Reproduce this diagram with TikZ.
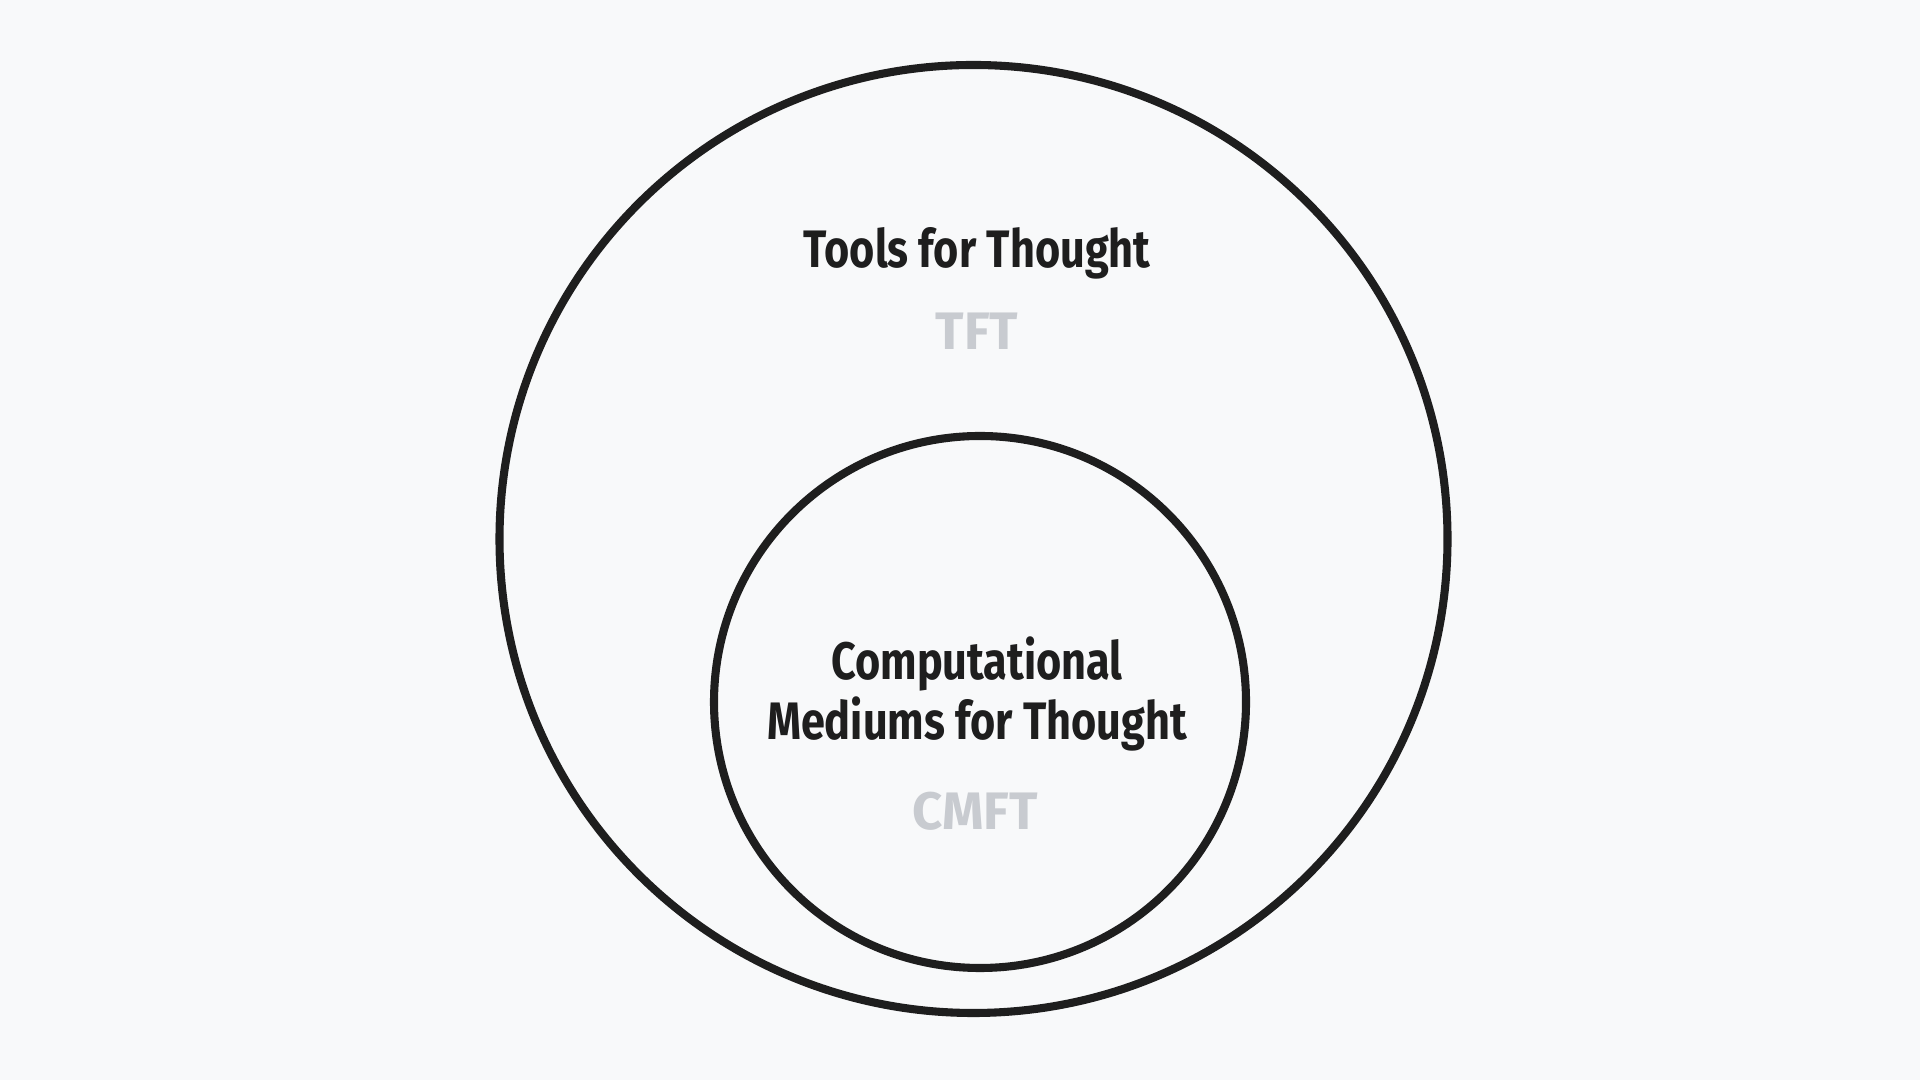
\documentclass[tikz,border=0pt]{standalone}
\usepackage{fontspec}
\setmainfont{Fira Sans}
\usetikzlibrary{positioning}
\definecolor{paper}{HTML}{F8F9FA}
\definecolor{ink}{HTML}{1E1E1E}
\definecolor{faint}{HTML}{C8CBD0}
\tikzset{
ring/.style={circle, draw=ink, line width=2.3pt, inner sep=0pt},
title/.style={text=ink, font=\bfseries\fontsize{15}{17}\selectfont, align=center, xscale=0.82, transform shape},
abbr/.style={text=faint, font=\bfseries\fontsize{15}{17}\selectfont}
}
\begin{document}
\begin{tikzpicture}
\fill[paper] (0,0) rectangle (19.2,10.8);
\useasboundingbox (0,0) rectangle (19.2,10.8);
% the two sets
\node[ring, minimum size=9.48cm] (outer) at (9.735,5.41) {};
\node[ring, minimum size=5.32cm] (inner) at (9.80,3.78) {};
% labels
\node[title] (tft) at (9.77,8.27) {Tools for Thought};
\node[abbr] (tftab) at (9.77,7.49) {TFT};
\node[title] (cmft) at (9.77,3.86) {Computational\\[0pt]Mediums for Thought};
\node[abbr] (cmftab) at (9.75,2.69) {CMFT};
\end{tikzpicture}
\end{document}
